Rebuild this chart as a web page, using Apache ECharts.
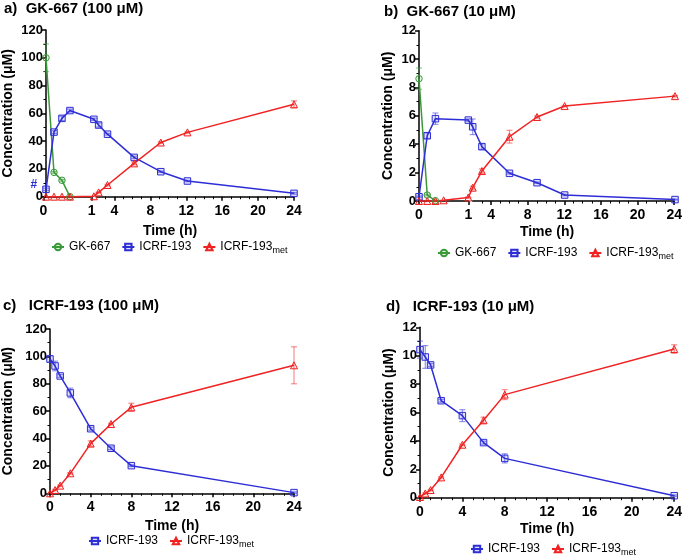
<!DOCTYPE html>
<html><head><meta charset="utf-8">
<script src="https://cdn.jsdelivr.net/npm/echarts@6/dist/echarts.min.js"></script>
<style>html,body{margin:0;padding:0;background:#fff}#c{width:685px;height:557px}</style>
</head><body><div id="c"></div>
<script>
// ---------- DATA ----------
// Panel a: GK-667 (100 µM)
const gkTimeA = [0, 0.167, 0.333, 0.5];
const gkA = [100, 17.5, 11.8, 0];
const gkErrA = [10, 0.6, 0.6, 0];
const timeA = [0, 0.167, 0.333, 0.5, 1, 2, 3, 6, 9, 12, 24];
const icrfA = [5.3, 46.5, 56.4, 62, 55.7, 51.6, 45, 28.3, 18, 11.3, 2.4];
const icrfErrA = [0.8, 1, 1.6, 1, 0.8, 1.5, 0.6, 0.8, 0.5, 0.5, 0.6];
const metA = [0, 0, 0, 0, 0.3, 3.1, 8.4, 24, 39, 46.3, 66.5];
const metErrA = [0, 0, 0, 0, 0, 0.3, 0.5, 1, 0.6, 0.5, 2.5];
// Panel b: GK-667 (10 µM)
const gkTimeB = [0, 0.167, 0.333];
const gkB = [8.62, 0.42, 0.02];
const gkErrB = [0.75, 0.05, 0.02];
const icrfTimeB = [0, 0.167, 0.333, 1, 2, 3, 6, 9, 12, 24];
const icrfB = [0.3, 4.6, 5.8, 5.7, 5.23, 3.83, 1.95, 1.29, 0.42, 0.1];
const icrfErrB = [0.05, 0.2, 0.4, 0.08, 0.55, 0.2, 0.05, 0.05, 0.05, 0.03];
const metTimeB = [0, 0.167, 0.333, 0.5, 1, 2, 3, 6, 9, 12, 24];
const metB = [0, 0, 0, 0.05, 0.25, 0.94, 2.11, 4.53, 5.92, 6.69, 7.39];
const metErrB = [0, 0, 0, 0, 0.04, 0.1, 0.15, 0.45, 0.08, 0.05, 0.05];
// Panel c: ICRF-193 (100 µM)
const timeC = [0, 0.5, 1, 2, 4, 6, 8, 24];
const icrfC = [98.1, 93, 85.7, 73.3, 47.2, 32.9, 20.2, 0.5];
const icrfErrC = [2.5, 3.5, 1, 3.5, 1, 1, 0.6, 0.5];
const metC = [0, 2.4, 5.6, 14.6, 36.3, 50.6, 62.8, 93.5];
const metErrC = [0, 0.5, 0.5, 0.5, 2, 0.6, 3, 13.5];
// Panel d: ICRF-193 (10 µM)
const timeD = [0, 0.5, 1, 2, 4, 6, 8, 24];
const icrfD = [10.43, 9.91, 9.35, 6.83, 5.78, 3.88, 2.77, 0.14];
const icrfErrD = [0.6, 0.8, 0.1, 0.1, 0.42, 0.1, 0.32, 0.05];
const metD = [0.05, 0.3, 0.54, 1.43, 3.73, 5.45, 7.26, 10.47];
const metErrD = [0, 0.05, 0.05, 0.05, 0.05, 0.22, 0.35, 0.3];
// Tick labels
const seg1Ticks = [0, 1];
const seg2Ticks = [4, 8, 12, 16, 20, 24];
const seg2Minor = [3, 5, 6, 7, 9, 10, 11, 13, 14, 15, 17, 18, 19, 21, 22, 23];
const titlesTxt = ['a)  GK-667 (100 μM)', 'b)  GK-667 (10 μM)', 'c)   ICRF-193 (100 μM)', 'd)   ICRF-193 (10 μM)'];
const names = {gk: 'GK-667', icrf: 'ICRF-193', met: 'ICRF-193met'};

// ---------- STYLE ----------
const FF = '"Liberation Sans", Arial, sans-serif';
const COL = {gk: '#3a9a3a', icrf: '#2e2ed6', met: '#f02222'};
const FILL = {gk: 'rgba(58,154,58,0.12)', icrf: 'rgba(46,46,214,0.15)', met: 'rgba(240,34,34,0.1)'};
const ERR = {gk: 'rgba(58,154,58,0.55)', icrf: 'rgba(46,46,214,0.5)', met: 'rgba(240,34,34,0.5)'};
const SYM = {gk: 'circle', icrf: 'rect', met: 'triangle'};

const grids = [], xAxes = [], yAxes = [], series = [];
const blackLine = {show: true, lineStyle: {color: '#000', width: 1.5}};

function yMain(gi, max, interval, nameGap) {
  return {gridIndex: gi, type: 'value', min: 0, max: max, interval: interval,
    name: 'Concentration (μM)', nameLocation: 'middle', nameGap: nameGap,
    nameTextStyle: {fontFamily: FF, fontWeight: 'bold', fontSize: 14, color: '#000'},
    axisLine: blackLine, axisTick: {show: true, length: 4, lineStyle: {color: '#000', width: 1.5}},
    minorTick: {show: true, splitNumber: 2, length: 2.5, lineStyle: {color: '#000', width: 1}},
    axisLabel: {fontFamily: FF, fontWeight: 'bold', fontSize: 13, color: '#000', margin: 3},
    splitLine: {show: false}};
}
function yHidden(gi, max) {
  return {gridIndex: gi, type: 'value', min: 0, max: max, show: false, splitLine: {show: false}};
}
const xLabel = {fontFamily: FF, fontWeight: 'bold', fontSize: 14, color: '#000', margin: 7};
const xName = {fontFamily: FF, fontWeight: 'bold', fontSize: 14, color: '#000'};

function addLine(key, xi, yi, pts, extra) {
  series.push(Object.assign({
    type: 'line', name: names[key], xAxisIndex: xi, yAxisIndex: yi, data: pts,
    symbol: SYM[key], symbolSize: key === 'met' ? 7 : 6.5, clip: false,
    lineStyle: {color: COL[key], width: 1.5},
    itemStyle: {color: FILL[key], borderColor: COL[key], borderWidth: 1},
    z: 3
  }, extra || {}));
}
function addErr(key, xi, yi, triples) {
  series.push({
    type: 'custom', xAxisIndex: xi, yAxisIndex: yi, data: triples, z: 2, silent: true,
    renderItem: function (params, api) {
      const x = api.value(0), lo = api.value(1), hi = api.value(2);
      const p1 = api.coord([x, hi]), p2 = api.coord([x, lo]);
      const w = 3;
      const st = {stroke: ERR[key], lineWidth: 1.2};
      return {type: 'group', children: [
        {type: 'line', shape: {x1: p1[0], y1: p1[1], x2: p2[0], y2: p2[1]}, style: st},
        {type: 'line', shape: {x1: p1[0] - w, y1: p1[1], x2: p1[0] + w, y2: p1[1]}, style: st},
        {type: 'line', shape: {x1: p2[0] - w, y1: p2[1], x2: p2[0] + w, y2: p2[1]}, style: st}
      ]};
    }
  });
}
function errTriples(times, vals, errs, xf) {
  const out = [];
  times.forEach((t, i) => { if (errs[i] > 0) out.push([xf(t), vals[i] - errs[i], vals[i] + errs[i]]); });
  return out;
}

// Broken-axis panel (a, b)
function brokenPanel(P, curves) {
  const pph = P.seg2W / 22, S = P.seg1W / pph, G = P.gapW / pph, U = S + G + 22;
  const xf = t => (t <= 1 ? t * S : S + G + (t - 2));
  const gm = grids.push({left: P.left, top: P.top, width: P.seg1W + P.gapW + P.seg2W, height: P.height}) - 1;
  const xm = xAxes.push({gridIndex: gm, type: 'value', min: 0, max: U, name: 'Time (h)', nameLocation: 'middle',
    nameGap: P.xNameGap, nameTextStyle: xName, axisLine: {show: false}, axisTick: {show: false},
    axisLabel: {show: false}, splitLine: {show: false}}) - 1;
  const ym = yAxes.push(yMain(gm, P.ymax, P.yint, P.yNameGap)) - 1;
  const g1 = grids.push({left: P.left, top: P.top, width: P.seg1W, height: P.height}) - 1;
  xAxes.push({gridIndex: g1, type: 'value', min: 0, max: 1, position: 'bottom', axisLine: blackLine,
    axisTick: {show: true, length: 4, lineStyle: {color: '#000', width: 1.5}, customValues: seg1Ticks},
    axisLabel: Object.assign({customValues: seg1Ticks}, xLabel), splitLine: {show: false}});
  yAxes.push(yHidden(g1, P.ymax));
  const g2 = grids.push({left: P.left + P.seg1W + P.gapW, top: P.top, width: P.seg2W, height: P.height}) - 1;
  xAxes.push({gridIndex: g2, type: 'value', min: 2, max: 24, position: 'bottom', axisLine: blackLine,
    axisTick: {show: true, length: 4, lineStyle: {color: '#000', width: 1.5}, customValues: seg2Ticks},
    axisLabel: Object.assign({customValues: seg2Ticks}, xLabel), splitLine: {show: false}});
  xAxes.push({gridIndex: g2, type: 'value', min: 2, max: 24, position: 'bottom', axisLine: {show: false},
    axisTick: {show: true, length: 2.5, lineStyle: {color: '#000', width: 1}, customValues: seg2Minor},
    axisLabel: {show: false}, splitLine: {show: false}});
  yAxes.push(yHidden(g2, P.ymax));
  curves.forEach(c => {
    addErr(c.key, xm, ym, errTriples(c.t, c.v, c.e, xf));
    const pts = c.t.map((t, i) => [xf(t), c.v[i]]);
    if (c.hash) {
      pts[0] = {value: pts[0], label: {show: true, formatter: '#', position: 'left', distance: 5, offset: [0, -5],
        color: COL[c.key], fontFamily: FF, fontWeight: 'bold', fontSize: 12}};
    }
    addLine(c.key, xm, ym, pts);
  });
}
function simplePanel(P, curves) {
  const g = grids.push({left: P.left, top: P.top, width: P.width, height: P.height}) - 1;
  const xi = xAxes.push({gridIndex: g, type: 'value', min: 0, max: 24, interval: 4, name: 'Time (h)',
    nameLocation: 'middle', nameGap: P.xNameGap, nameTextStyle: xName, axisLine: blackLine,
    axisTick: {show: true, length: 4, lineStyle: {color: '#000', width: 1.5}},
    minorTick: {show: true, splitNumber: 4, length: 2.5, lineStyle: {color: '#000', width: 1}},
    axisLabel: xLabel, splitLine: {show: false}}) - 1;
  const yi = yAxes.push(yMain(g, P.ymax, P.yint, P.yNameGap)) - 1;
  curves.forEach(c => {
    addErr(c.key, xi, yi, errTriples(c.t, c.v, c.e, t => t));
    addLine(c.key, xi, yi, c.t.map((t, i) => [t, c.v[i]]));
  });
}

brokenPanel({left: 43.3, top: 30, height: 166.7, seg1W: 48.4, gapW: 4.8, seg2W: 197.5, ymax: 120, yint: 20, yNameGap: 31, xNameGap: 27}, [
  {key: 'gk', t: gkTimeA, v: gkA, e: gkErrA},
  {key: 'icrf', t: timeA, v: icrfA, e: icrfErrA, hash: true},
  {key: 'met', t: timeA, v: metA, e: metErrA}
]);
brokenPanel({left: 419, top: 30.7, height: 170.3, seg1W: 49.3, gapW: 4.4, seg2W: 202.3, ymax: 12, yint: 2, yNameGap: 24, xNameGap: 24}, [
  {key: 'gk', t: gkTimeB, v: gkB, e: gkErrB},
  {key: 'icrf', t: icrfTimeB, v: icrfB, e: icrfErrB},
  {key: 'met', t: metTimeB, v: metB, e: metErrB}
]);
simplePanel({left: 49, top: 329, width: 245, height: 164.3, ymax: 120, yint: 20, yNameGap: 35, xNameGap: 26}, [
  {key: 'icrf', t: timeC, v: icrfC, e: icrfErrC},
  {key: 'met', t: timeC, v: metC, e: metErrC}
]);
simplePanel({left: 420, top: 327.3, width: 256.7, height: 170.4, ymax: 12, yint: 2, yNameGap: 24, xNameGap: 24}, [
  {key: 'icrf', t: timeD, v: icrfD, e: icrfErrD},
  {key: 'met', t: timeD, v: metD, e: metErrD}
]);

const titlePos = [[4, 1], [384, 4], [3, 298], [386, 299]];
const titles = titlesTxt.map((t, i) => ({text: t, left: titlePos[i][0], top: titlePos[i][1], padding: 0,
  textStyle: {fontFamily: FF, fontWeight: 'bold', fontSize: 15, color: '#000'}}));

function legend(left, top, data) {
  return {left: left, top: top, width: 300, padding: 0, itemWidth: 12, itemHeight: 8, itemGap: 11, data: data,
    selectedMode: false,
    formatter: n => (n === 'ICRF-193met' ? '{n|ICRF-193}{s|met}' : n),
    textStyle: {fontFamily: FF, fontSize: 12, color: '#000',
      rich: {n: {fontFamily: FF, fontSize: 12, color: '#000'}, s: {fontFamily: FF, fontSize: 9, color: '#000', padding: [7, 0, 0, 0]}}}};
}
const legends = [
  legend(51, 241, [names.gk, names.icrf, names.met]),
  legend(437, 247, [names.gk, names.icrf, names.met]),
  legend(88, 535, [names.icrf, names.met]),
  legend(470, 543, [names.icrf, names.met])
];

const chart = echarts.init(document.getElementById('c'), null, {renderer: 'canvas'});
chart.setOption({animation: false, backgroundColor: '#fff', title: titles, legend: legends,
  grid: grids, xAxis: xAxes, yAxis: yAxes, series: series});
</script></body></html>
